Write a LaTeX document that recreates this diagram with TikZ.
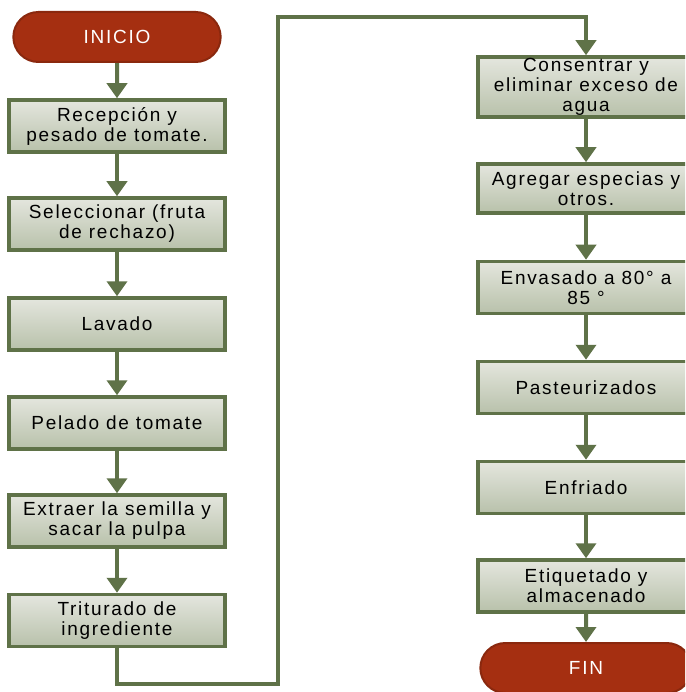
\documentclass[tikz,border=0pt]{standalone}
\usepackage{fontspec}
\setmainfont{Liberation Sans}[LetterSpace=9]
\usetikzlibrary{arrows.meta,shapes.misc}
\definecolor{olivo}{RGB}{95,114,72}
\definecolor{cajaarriba}{RGB}{228,230,222}
\definecolor{cajaabajo}{RGB}{184,193,170}
\definecolor{rojizo}{RGB}{165,47,17}
\definecolor{rojoborde}{RGB}{138,40,14}
\tikzset{
	paso/.style={draw=olivo, line width=3.5pt, top color=cajaarriba, bottom color=cajaabajo, minimum width=216pt, minimum height=52pt, inner sep=0pt, align=center, font=\fontsize{19}{20}\selectfont},
	terminal/.style={rounded rectangle, draw=rojoborde, fill=rojizo, line width=2pt, text=white, minimum width=214pt, minimum height=50pt, font=\fontsize{19}{20}\selectfont},
	flecha/.style={draw=olivo, line width=4pt, -{Triangle[width=20pt,length=15pt]}}
}
\begin{document}
\begin{tikzpicture}[x=1pt, y=-1pt]
			%%%%% START %%%%%
			\clip (0, 0) rectangle (685, 692);
			
			\node[terminal] (inicio) at (117, 37) {INICIO};
			\node[paso] (recepcion) at (117, 126) {Recepción y\\pesado de tomate.};
			\node[paso] (seleccion) at (117, 224) {Seleccionar (fruta\\de rechazo)};
			\node[paso] (lavado) at (117, 324) {Lavado};
			\node[paso] (pelado) at (117, 423) {Pelado de tomate};
			\node[paso] (extraer) at (117, 521) {Extraer la semilla y\\sacar la pulpa};
			\node[paso] (triturado) at (117, 620.5) {Triturado de\\ingrediente};
			
			\node[paso, minimum height=60pt] (concentrar) at (586, 87) {Consentrar y\\eliminar exceso de\\agua};
			\node[paso, minimum height=49pt] (agregar) at (586, 188.5) {Agregar especias y\\otros.};
			\node[paso] (envasado) at (586, 287.5) {Envasado a 80° a\\85 °};
			\node[paso] (pasteurizado) at (586, 387.5) {Pasteurizados};
			\node[paso] (enfriado) at (586, 487.5) {Enfriado};
			\node[paso] (etiquetado) at (586, 586) {Etiquetado y\\almacenado};
			\node[terminal, minimum width=218pt] (fin) at (586, 668) {FIN};
			
			\draw[flecha] (inicio) -- (recepcion);
			\draw[flecha] (recepcion) -- (seleccion);
			\draw[flecha] (seleccion) -- (lavado);
			\draw[flecha] (lavado) -- (pelado);
			\draw[flecha] (pelado) -- (extraer);
			\draw[flecha] (extraer) -- (triturado);
			
			\coordinate (abajo) at (278, 684);
			\coordinate (arriba) at (586, 17);
			\draw[flecha] (triturado) |- (abajo) |- (arriba) -- (concentrar);
			
			\draw[flecha] (concentrar) -- (agregar);
			\draw[flecha] (agregar) -- (envasado);
			\draw[flecha] (envasado) -- (pasteurizado);
			\draw[flecha] (pasteurizado) -- (enfriado);
			\draw[flecha] (enfriado) -- (etiquetado);
			\draw[flecha] (etiquetado) -- (fin);
			%%%%% END %%%%%
		\end{tikzpicture}
\end{document}
